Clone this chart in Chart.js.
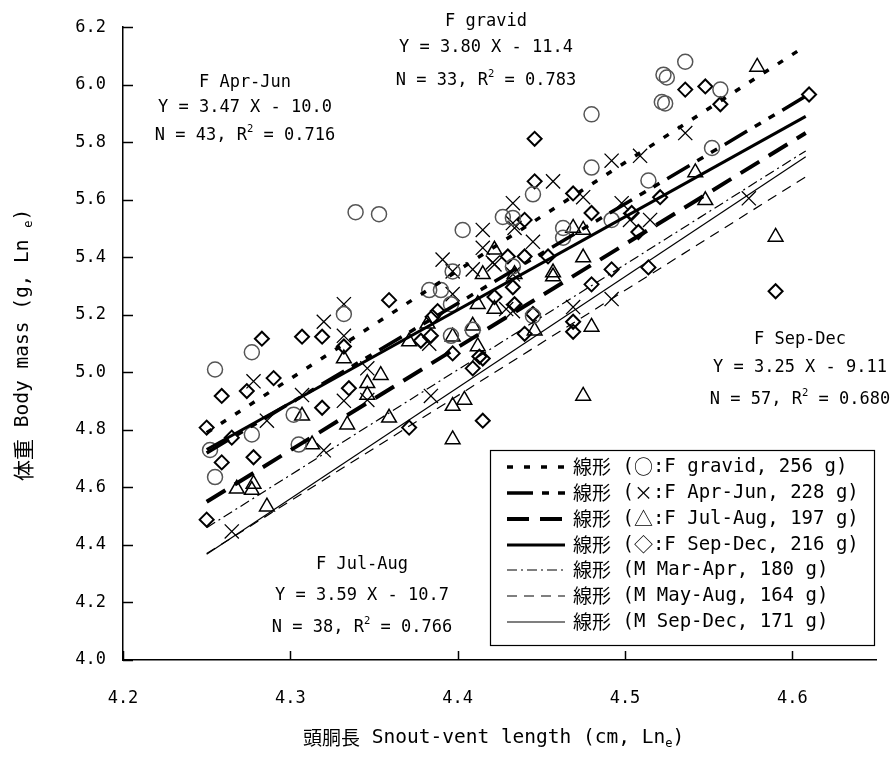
<!DOCTYPE html>
<html><head><meta charset="utf-8">
<script src="https://cdn.jsdelivr.net/npm/chart.js@4/dist/chart.umd.min.js"></script>
<style>html,body{margin:0;padding:0;background:#fff}</style>
</head><body>
<canvas id="c" width="895" height="770"></canvas>
<script>
const CJK = '"Noto Sans CJK JP", "Noto Sans", sans-serif';
const MONO = '"DejaVu Sans Mono", "Liberation Mono", monospace';

// ---- tick labels ----
const xTicks = [4.2, 4.3, 4.4, 4.5, 4.6];
const yTicks = [4.0, 4.2, 4.4, 4.6, 4.8, 5.0, 5.2, 5.4, 5.6, 5.8, 6.0, 6.2];

// ---- scatter points [snout-vent ln, body mass ln] ----
const gravidPts = [[4.252,4.73],[4.255,5.01],[4.255,4.636],[4.277,5.07],[4.277,4.784],[4.302,4.853],[4.305,4.749],[4.339,5.557],[4.353,5.55],[4.332,5.203],[4.383,5.286],[4.390,5.286],[4.396,5.237],[4.397,5.351],[4.396,5.127],[4.403,5.495],[4.409,5.148],[4.427,5.540],[4.433,5.537],[4.433,5.368],[4.445,5.619],[4.445,5.196],[4.463,5.502],[4.463,5.468],[4.480,5.897],[4.480,5.712],[4.492,5.530],[4.514,5.667],[4.523,6.035],[4.525,6.025],[4.522,5.94],[4.524,5.935],[4.536,6.08],[4.557,5.983],[4.552,5.78]];
const aprJunPts = [[4.265,4.447],[4.278,4.969],[4.286,4.832],[4.307,4.921],[4.320,5.176],[4.320,4.729],[4.332,5.237],[4.332,5.127],[4.332,4.901],[4.346,5.014],[4.346,4.904],[4.383,5.100],[4.384,4.918],[4.391,5.392],[4.397,5.351],[4.397,5.272],[4.409,5.358],[4.415,5.495],[4.415,5.433],[4.422,5.375],[4.421,5.382],[4.433,5.588],[4.433,5.519],[4.434,5.502],[4.433,5.341],[4.433,5.213],[4.429,5.220],[4.445,5.454],[4.457,5.664],[4.475,5.609],[4.469,5.227],[4.492,5.736],[4.492,5.255],[4.498,5.588],[4.509,5.753],[4.515,5.530],[4.503,5.530],[4.536,5.832],[4.574,5.605]];
const julAugPts = [[4.268,4.595],[4.278,4.612],[4.277,4.591],[4.286,4.533],[4.307,4.849],[4.313,4.749],[4.332,5.048],[4.334,4.818],[4.346,4.962],[4.346,4.921],[4.354,4.990],[4.359,4.842],[4.371,5.107],[4.382,5.169],[4.397,5.124],[4.397,4.883],[4.397,4.767],[4.404,4.904],[4.409,5.162],[4.412,5.237],[4.412,5.090],[4.415,5.341],[4.422,5.426],[4.422,5.220],[4.434,5.341],[4.446,5.145],[4.457,5.347],[4.457,5.333],[4.469,5.502],[4.475,5.495],[4.475,5.399],[4.480,5.158],[4.475,4.918],[4.542,5.695],[4.548,5.598],[4.579,6.062],[4.590,5.471]];
const sepDecPts = [[4.250,4.808],[4.250,4.488],[4.259,4.918],[4.259,4.687],[4.265,4.773],[4.274,4.935],[4.278,4.705],[4.283,5.117],[4.290,4.980],[4.307,5.124],[4.319,5.124],[4.319,4.877],[4.332,5.090],[4.335,4.945],[4.359,5.251],[4.371,4.808],[4.378,5.110],[4.384,5.127],[4.385,5.193],[4.388,5.213],[4.397,5.066],[4.409,5.014],[4.413,5.055],[4.415,4.832],[4.415,5.048],[4.422,5.262],[4.430,5.403],[4.433,5.296],[4.434,5.237],[4.440,5.530],[4.440,5.403],[4.440,5.134],[4.445,5.203],[4.446,5.812],[4.446,5.664],[4.454,5.403],[4.469,5.622],[4.469,5.176],[4.469,5.141],[4.480,5.554],[4.480,5.306],[4.492,5.358],[4.504,5.554],[4.508,5.488],[4.514,5.365],[4.521,5.609],[4.536,5.983],[4.548,5.994],[4.557,5.932],[4.590,5.282],[4.610,5.966]];

// ---- regression lines (end points) ----
const lineX = [4.25, 4.608];
const gravidLineY = [4.79, 6.135];
const aprJunLineY = [4.72, 5.96];
const julAugLineY = [4.55, 5.832];
const sepDecLineY = [4.732, 5.89];
const mMarAprLineY = [4.46, 5.77];
const mMayAugLineY = [4.37, 5.68];
const mSepDecLineY = [4.368, 5.75];

const legendNames = ['F gravid, 256 g', 'F Apr-Jun, 228 g', 'F Jul-Aug, 197 g', 'F Sep-Dec, 216 g', 'M Mar-Apr, 180 g', 'M May-Aug, 164 g', 'M Sep-Dec, 171 g'];
const legendMarks = ['○', '×', '△', '◇', '', '', ''];

const toXY = a => a.map(p => ({x: p[0], y: p[1]}));
const lineData = ys => lineX.map((x, i) => ({x, y: ys[i]}));

const lineStyles = [
  {w: 3.5, dash: [6, 11]},
  {w: 3.5, dash: [26, 9, 7, 9, 7, 9]},
  {w: 4, dash: [22, 11]},
  {w: 3, dash: []},
  {w: 1.2, dash: [10, 4, 2, 4]},
  {w: 1.2, dash: [10, 7]},
  {w: 1.2, dash: []}
];
const lineYs = [gravidLineY, aprJunLineY, julAugLineY, sepDecLineY, mMarAprLineY, mMayAugLineY, mSepDecLineY];

const datasets = lineYs.map((ys, i) => ({
  label: legendNames[i], data: lineData(ys), showLine: true, pointRadius: 0,
  borderColor: '#000', borderWidth: lineStyles[i].w, borderDash: lineStyles[i].dash, fill: false
}));
datasets.push(
  {label: 'F gravid', data: toXY(gravidPts), pointStyle: 'circle', pointRadius: 7.5, pointBorderWidth: 1.5, pointBorderColor: '#555', pointBackgroundColor: 'rgba(0,0,0,0)', showLine: false},
  {label: 'F Apr-Jun', data: toXY(aprJunPts), pointStyle: 'crossRot', pointRadius: 10, pointBorderWidth: 1.3, pointBorderColor: '#000', pointBackgroundColor: 'rgba(0,0,0,0)', showLine: false},
  {label: 'F Jul-Aug', data: toXY(julAugPts), pointStyle: 'triangle', pointRadius: 8.5, pointBorderWidth: 1.5, pointBorderColor: '#000', pointBackgroundColor: 'rgba(0,0,0,0)', showLine: false},
  {label: 'F Sep-Dec', data: toXY(sepDecPts), pointStyle: 'rectRot', pointRadius: 7, pointBorderWidth: 2, pointBorderColor: '#000', pointBackgroundColor: 'rgba(0,0,0,0)', showLine: false}
);

function segFont(s, size) {
  const sz = (s.sup || s.sub) ? size * 0.62 : (s.size || size);
  return sz + 'px ' + (s.f || MONO);
}
function drawRich(ctx, segs, x, y, size, align) {
  let total = 0;
  const ws = segs.map(s => { ctx.font = segFont(s, size); const w = ctx.measureText(s.t).width; total += w; return w; });
  let cx = align === 'center' ? x - total / 2 : x;
  ctx.textBaseline = 'middle'; ctx.textAlign = 'left'; ctx.fillStyle = '#000';
  segs.forEach((s, i) => {
    ctx.font = segFont(s, size);
    const dy = s.sup ? -size * 0.42 : (s.sub ? size * 0.32 : 0);
    ctx.fillText(s.t, cx, y + dy);
    cx += ws[i];
  });
}

const annotations = [
  {x: 486, ys: [22, 48, 81], lines: [[{t:'F gravid'}], [{t:'Y = 3.80 X - 11.4'}], [{t:'N = 33, R'},{t:'2',sup:true},{t:' = 0.783'}]]},
  {x: 245, ys: [83, 108, 136], lines: [[{t:'F Apr-Jun'}], [{t:'Y = 3.47 X - 10.0'}], [{t:'N = 43, R'},{t:'2',sup:true},{t:' = 0.716'}]]},
  {x: 800, ys: [340, 368, 400], lines: [[{t:'F Sep-Dec'}], [{t:'Y = 3.25 X - 9.11'}], [{t:'N = 57, R'},{t:'2',sup:true},{t:' = 0.680'}]]},
  {x: 362, ys: [565, 596, 628], lines: [[{t:'F Jul-Aug'}], [{t:'Y = 3.59 X - 10.7'}], [{t:'N = 38, R'},{t:'2',sup:true},{t:' = 0.766'}]]}
];

const decor = {
  id: 'decor',
  afterDraw(chart) {
    const ctx = chart.ctx, xs = chart.scales.x, ys = chart.scales.y, a = chart.chartArea;
    ctx.save();
    ctx.strokeStyle = '#000'; ctx.lineWidth = 1.5;
    xTicks.forEach(v => { const p = Math.round(xs.getPixelForValue(v)) + 0.5; ctx.beginPath(); ctx.moveTo(p, a.bottom); ctx.lineTo(p, a.bottom - 9); ctx.stroke(); });
    yTicks.forEach(v => { const p = Math.round(ys.getPixelForValue(v)) + 0.5; ctx.beginPath(); ctx.moveTo(a.left, p); ctx.lineTo(a.left + 10, p); ctx.stroke(); });
    annotations.forEach(an => an.lines.forEach((ln, i) => drawRich(ctx, ln, an.x, an.ys[i], 17, 'center')));
    drawRich(ctx, [{t:'頭胴長', f: CJK, size: 19},{t:' Snout-vent length (cm, Ln'},{t:'e',sub:true},{t:')'}], 303, 738, 19.5, 'left');
    ctx.save(); ctx.translate(23, 481); ctx.rotate(-Math.PI / 2);
    drawRich(ctx, [{t:'体重', f: CJK, size: 21},{t:' Body mass (g, Ln '},{t:'e',sub:true},{t:')'}], 0, 0, 19.5, 'left');
    ctx.restore();
    const L = 490, T = 450, R = 874, B = 645;
    ctx.fillStyle = '#fff'; ctx.fillRect(L, T, R - L, B - T);
    ctx.strokeStyle = '#000'; ctx.lineWidth = 1.2; ctx.strokeRect(L + 0.5, T + 0.5, R - L, B - T);
    const rowY = [467, 493, 519, 545, 570, 596, 622];
    legendNames.forEach((name, i) => {
      ctx.save();
      ctx.strokeStyle = '#000'; ctx.lineWidth = lineStyles[i].w; ctx.setLineDash(lineStyles[i].dash);
      ctx.beginPath(); ctx.moveTo(507, rowY[i]); ctx.lineTo(565, rowY[i]); ctx.stroke();
      ctx.restore();
      const segs = [{t: '線形', f: CJK, size: 19}, {t: ' ('}];
      if (legendMarks[i]) segs.push({t: legendMarks[i], f: CJK, size: 19}, {t: ':' + name + ')'});
      else segs.push({t: name + ')'});
      drawRich(ctx, segs, 573, rowY[i], 19, 'left');
    });
    ctx.restore();
  }
};

new Chart(document.getElementById('c'), {
  type: 'scatter',
  data: {datasets},
  options: {
    responsive: false, animation: false, devicePixelRatio: 1,
    layout: {padding: {top: 20, right: 19, left: 0, bottom: 0}},
    plugins: {legend: {display: false}, tooltip: {enabled: false}},
    scales: {
      x: {
        type: 'linear', min: 4.2, max: 4.65,
        afterBuildTicks: s => { s.ticks = xTicks.map(v => ({value: v})); },
        afterFit: s => { s.height = 110; },
        grid: {display: false, drawTicks: false},
        border: {display: true, color: '#000', width: 1.5},
        ticks: {padding: 28, color: '#000', font: {family: MONO, size: 17}, callback: v => Number(v).toFixed(1), maxRotation: 0}
      },
      y: {
        type: 'linear', min: 4.0, max: 6.2,
        afterBuildTicks: s => { s.ticks = yTicks.map(v => ({value: v})); },
        afterFit: s => { s.width = 123; },
        grid: {display: false, drawTicks: false},
        border: {display: true, color: '#000', width: 1.5},
        ticks: {padding: 17, color: '#000', font: {family: MONO, size: 17}, callback: v => Number(v).toFixed(1)}
      }
    }
  },
  plugins: [decor]
});
</script>
</body></html>
